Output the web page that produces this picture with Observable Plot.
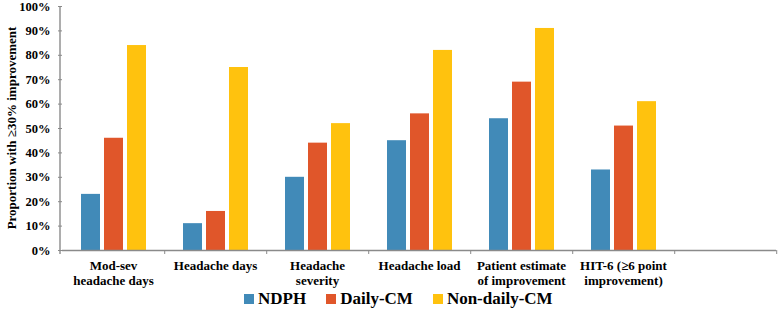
<!DOCTYPE html>
<html>
<head>
<meta charset="utf-8">
<script src="https://cdn.jsdelivr.net/npm/d3@7"></script>
<script src="https://cdn.jsdelivr.net/npm/@observablehq/plot@0.6"></script>
<style>
  body { margin: 0; background: #fff; }
  #chart { width: 778px; height: 313px; font-family: "Liberation Serif", serif; }
  #legend { display: flex; justify-content: flex-start; padding-left: 244px; margin-top: -6px; }
  #legend .leg-swatches { font-family: "Liberation Serif", serif; font-weight: bold; font-size: 17px; color: #000; }
  #legend .leg-swatches > span { margin-right: 20px; }
  #legend .leg-swatch svg { margin-right: 4px; }
</style>
</head>
<body>
<div id="chart"></div>
<script>
// Outcome categories (a trailing blank slot keeps the empty band at the right)
const categories = [
  "Mod-sev\nheadache days",
  "Headache days",
  "Headache\nseverity",
  "Headache load",
  "Patient estimate\nof improvement",
  "HIT-6 (≥6 point\nimprovement)"
];
const slots = [...categories, " "];

// Groups
const series = ["NDPH", "Daily-CM", "Non-daily-CM"];
const colors = ["#418AB8", "#E0562A", "#FFC20E"];

// Proportion (%) with ≥30% improvement, per outcome
const ndph       = [23, 11, 30, 45, 54, 33];
const dailyCM    = [46, 16, 44, 56, 69, 51];
const nonDailyCM = [84, 75, 52, 82, 91, 61];

const yTicks = [0, 10, 20, 30, 40, 50, 60, 70, 80, 90, 100];

const rows = [];
categories.forEach((c, i) => {
  rows.push({category: c, series: series[0], value: ndph[i]});
  rows.push({category: c, series: series[1], value: dailyCM[i]});
  rows.push({category: c, series: series[2], value: nonDailyCM[i]});
});

const W = 778, H = 288;
const mL = 60, mR = 1, mT = 6, mB = 38;
const halfSlot = (W - mL - mR) / slots.length / 2;
const axisGray = "#8a8a8a";

const plot = Plot.plot({
  width: W,
  height: H,
  marginLeft: mL,
  marginRight: mR,
  marginTop: mT,
  marginBottom: mB,
  style: {fontFamily: "Liberation Serif, serif", fontWeight: "bold", fontSize: "12.5px", color: "#000", background: "#fff"},
  fx: {domain: slots, padding: 0},
  x: {domain: series, paddingInner: 0.19, paddingOuter: 0.8, axis: null},
  y: {domain: [0, 100]},
  color: {domain: series, range: colors},
  marks: [
    Plot.barY(rows, {fx: "category", x: "series", y: "value", fill: "series"}),
    // baseline drawn in every slot, including the blank one
    Plot.ruleY(slots, {fx: d => d, y: () => 0, stroke: axisGray, strokeWidth: 1.4}),
    Plot.axisY({
      ticks: yTicks,
      tickFormat: d => d + "%",
      tickSize: 4,
      tickPadding: 8,
      fontSize: 12.5,
      stroke: axisGray,
      fill: "#000",
      label: null
    }),
    Plot.axisFx({anchor: "bottom", tickSize: 0, tickPadding: 9, fontSize: 13, label: null, lineHeight: 1.15}),
    Plot.axisFx({anchor: "bottom", tickSize: 4, tickFormat: () => "", label: null, dx: halfSlot, stroke: axisGray})
  ]
});

const svg = d3.select(plot);
const ys = plot.scale("y");

// vertical axis line at the left edge of the frame
svg.append("line")
  .attr("x1", mL).attr("x2", mL)
  .attr("y1", ys.apply(100)).attr("y2", ys.apply(0) + 4)
  .attr("stroke", axisGray).attr("stroke-width", 1.4);

// y-axis title
svg.append("text")
  .attr("transform", `translate(11,${(ys.apply(0) + ys.apply(100)) / 2}) rotate(-90)`)
  .attr("text-anchor", "middle")
  .attr("dominant-baseline", "central")
  .attr("font-size", 13)
  .attr("font-weight", "bold")
  .attr("fill", "#000")
  .text("Proportion with ≥30% improvement");

document.getElementById("chart").appendChild(plot);

const legend = Plot.legend({
  color: {domain: series, range: colors},
  swatchSize: 10,
  className: "leg"
});
const legWrap = document.createElement("div");
legWrap.id = "legend";
legWrap.appendChild(legend);
document.getElementById("chart").appendChild(legWrap);
</script>
</body>
</html>
